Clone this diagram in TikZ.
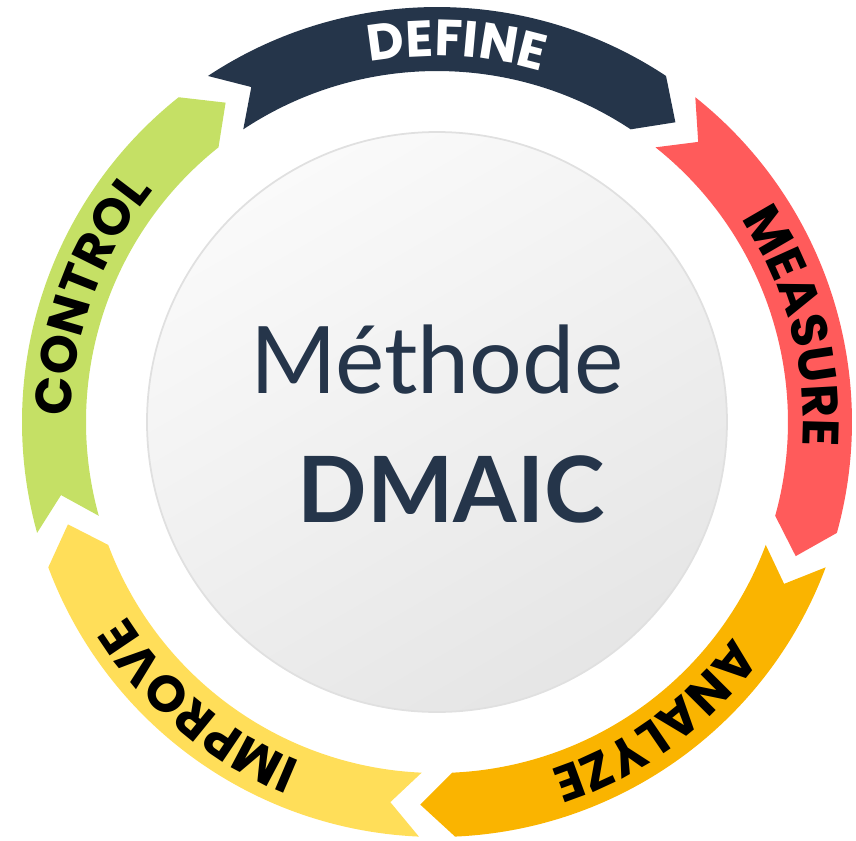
\documentclass[tikz,border=0pt]{standalone}
\usepackage{fontspec}
\setmainfont{Lato}
\newfontfamily\ribbonfamily{Poppins}
\usetikzlibrary{decorations.text}
\newcommand\ringfont{\ribbonfamily\bfseries\fontsize{14.5}{14.5}\selectfont}

\definecolor{navy}{HTML}{25354A}
\definecolor{defcol}{HTML}{25354A}
\definecolor{meacol}{HTML}{FF5B5B}
\definecolor{anacol}{HTML}{FAB400}
\definecolor{impcol}{HTML}{FFDE59}
\definecolor{concol}{HTML}{C5E065}

\tikzset{
  ribbon/.style={fill=#1},
  ringlabel/.style={decorate, decoration={text along path, text align=center, text color=#1}},
}

\begin{document}
\begin{tikzpicture}[x=0.01cm, y=0.01cm]
  \useasboundingbox (-437,-419) rectangle (419,422);

  % centre disc
  \shade[top color=white!98!black, bottom color=black!10, shading angle=30,
         draw=black!12, line width=0.5pt] (0,0) circle[radius=290];

  % the five ribbons, clockwise
  \foreach \c/\col in {90/defcol, 18/meacol, -54/anacol, -126/impcol, -198/concol}{
    \fill[ribbon=\col] ({\c+33.5}:415) arc[start angle=\c+33.5, end angle=\c-33.5, radius=415]
      -- ({\c-38.5}:383) -- ({\c-33.5}:351)
      arc[start angle=\c-33.5, end angle=\c+33.5, radius=351]
      -- ({\c+29}:383) -- cycle;
  }

  % labels along the ring
  \path[ringlabel=white, decoration={text={|\ringfont|DEFINE}}] (127:366) arc[start angle=127, end angle=47, radius=366];
  \path[ringlabel=black, decoration={text={|\ringfont|MEASURE}}] (55:366) arc[start angle=55, end angle=-25, radius=366];
  \path[ringlabel=black, decoration={text={|\ringfont|ANALYZE}}] (-14:366) arc[start angle=-14, end angle=-94, radius=366];
  \path[ringlabel=black, decoration={text={|\ringfont|IMPROVE}}] (-90:366) arc[start angle=-90, end angle=-170, radius=366];
  \path[ringlabel=black, decoration={text={|\ringfont|CONTROL}}] (200:366) arc[start angle=200, end angle=120, radius=366];

  % title
  \node[anchor=base, text=navy, font=\fontsize{26.5}{26.5}\selectfont, inner sep=0pt] (title) at (0,29) {Méthode};
  \node[anchor=base, text=navy, font=\fontsize{26}{26}\selectfont\bfseries, inner sep=0pt] (acronym) at (14,-100) {DMAIC};
\end{tikzpicture}
\end{document}
